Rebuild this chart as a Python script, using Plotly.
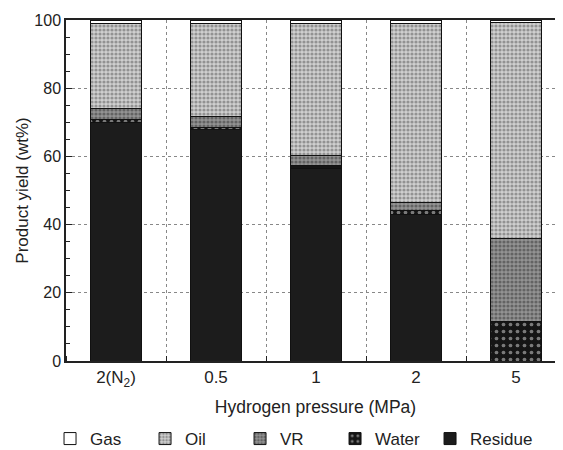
import plotly.graph_objects as go

categories = ["2(N<sub>2</sub>)", "0.5", "1", "2", "5"]
residue = [70.0, 68.0, 56.5, 43.0, 0.0]
water = [0.8, 0.6, 0.8, 1.0, 11.5]
vr = [3.2, 3.0, 3.0, 2.5, 24.3]
oil = [25.0, 27.4, 38.7, 52.5, 63.5]
gas = [1.0, 1.0, 1.0, 1.0, 0.7]
yticks = [0, 20, 40, 60, 80, 100]

xpos = list(range(len(categories)))
FONT = "Liberation Sans, Arial, sans-serif"
TXT = "#222222"

fig = go.Figure()
series = [
    ("Gas", gas, dict(color="white")),
    ("Oil", oil, dict(color="#a8a8a8", pattern=dict(shape=".", fgcolor="#555555", bgcolor="#cfcfcf", size=4, solidity=0.5))),
    ("VR", vr, dict(color="#606060", pattern=dict(shape=".", fgcolor="#333333", bgcolor="#939393", size=4, solidity=0.5))),
    ("Water", water, dict(color="#111111", pattern=dict(shape=".", fgcolor="#e0e0e0", bgcolor="#151515", size=7, solidity=0.22))),
    ("Residue", residue, dict(color="#1c1c1c")),
]
# stacking order bottom -> top: Residue, Water, VR, Oil, Gas
for name, vals, mk in reversed(series):
    m = dict(mk)
    m["line"] = dict(color="#111111", width=1)
    extra = {"legendwidth": 100} if name == "Residue" else {}
    fig.add_trace(go.Bar(name=name, x=xpos, y=vals, width=0.51, marker=m, **extra))

# page body adds an 8px margin, so the figure margins are offset accordingly
fig.update_layout(
    barmode="stack",
    width=563, height=450,
    margin=dict(l=58, r=6, t=12, b=97, autoexpand=False),
    paper_bgcolor="white", plot_bgcolor="white",
    font=dict(family=FONT, size=17, color=TXT),
    legend=dict(
        orientation="h", traceorder="reversed",
        x=-0.032, xanchor="left", y=-0.176, yanchor="top",
        entrywidth=50, entrywidthmode="pixels",
        font=dict(size=17, color=TXT),
    ),
)
fig.update_xaxes(
    range=[-0.5, 4.49], tickvals=xpos, ticktext=categories,
    showline=True, linecolor="#222222", linewidth=1.5, mirror=True,
    ticks="", showgrid=False, zeroline=False,
    minor=dict(tick0=0.5, dtick=1, showgrid=True, gridcolor="#888888", griddash="dot", gridwidth=1,
               ticks="inside", ticklen=5, tickcolor="#222222"),
    title=dict(text="Hydrogen pressure (MPa)", standoff=12, font=dict(size=17.5, color=TXT)),
    tickfont=dict(size=17, color=TXT),
)
fig.update_yaxes(
    range=[0, 100], tickvals=yticks,
    showline=True, linecolor="#222222", linewidth=1.5, mirror="ticks",
    ticks="inside", ticklen=6, tickcolor="#222222",
    showgrid=True, gridcolor="#888888", griddash="dot", gridwidth=1, zeroline=False,
    minor=dict(dtick=5, ticks="inside", ticklen=4, tickcolor="#222222"),
    title=dict(text="Product yield (wt%)", standoff=1, font=dict(size=17, color=TXT)),
    tickfont=dict(size=16, color=TXT),
)

fig.write_html("out.html")
